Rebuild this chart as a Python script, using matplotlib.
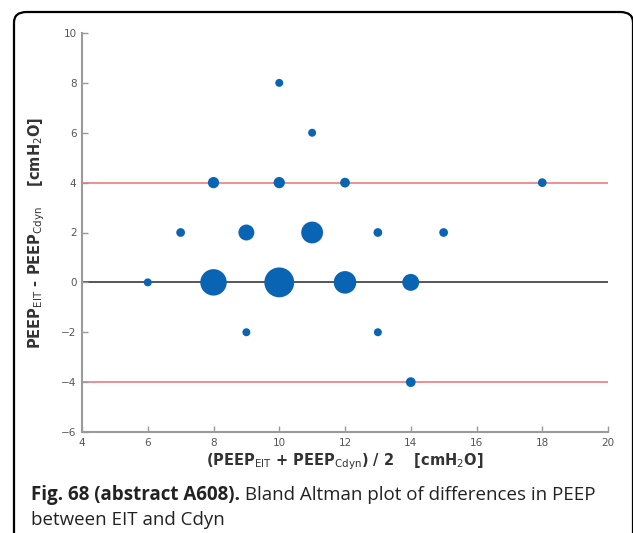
import matplotlib.pyplot as plt
from matplotlib.patches import FancyBboxPatch

# mean of the two PEEP values, difference, number of patients at that point
mean_peep = [6, 8, 10, 12, 14, 7, 9, 11, 13, 15, 8, 10, 12, 18, 10, 11, 9, 13, 14]
diff_peep = [0, 0, 0, 0, 0, 2, 2, 2, 2, 2, 4, 4, 4, 4, 8, 6, -2, -2, -4]
counts = [1, 11, 14, 8, 4.5, 1.2, 4, 7.5, 1.2, 1.2, 2, 2, 1.5, 1.2, 1, 1, 1, 1, 1.5]
bias = 0
limits = [4, -4]

xticks = [4, 6, 8, 10, 12, 14, 16, 18, 20]
yticks = [-6, -4, -2, 0, 2, 4, 6, 8, 10]

caption_bold = "Fig. 68 (abstract A608)."
caption_rest = " Bland Altman plot of differences in PEEP"
caption_line2 = "between EIT and Cdyn"

W, H = 633, 533
fig = plt.figure(figsize=(W/100, H/100), dpi=100)

# rounded frame round the panel, bottom edge runs off the image
frame = FancyBboxPatch((14/W, -0.03), (633-14)/W, (H-12)/H + 0.03,
                       boxstyle="round,pad=0,rounding_size=0.02",
                       transform=fig.transFigure, fill=False,
                       edgecolor="black", linewidth=1.6, clip_on=False)
fig.patches.append(frame)

ax = fig.add_axes([82/W, 1-432/H, (608-82)/W, (432-33)/H])

ax.axhline(bias, color="#3a3a3a", linewidth=1.2, zorder=1)
for l in limits:
    ax.axhline(l, color="#ec7d80", linewidth=1.2, zorder=1)

ax.scatter(mean_peep, diff_peep, s=[33*c for c in counts], color="#0a64b4",
           edgecolors="none", zorder=3)

ax.set_xlim(4, 20)
ax.set_ylim(-6, 10)
ax.set_xticks(xticks)
ax.set_yticks(yticks)
ax.tick_params(direction="in", length=4, width=1, colors="#999999",
               labelcolor="#555555", labelsize=7.5, pad=4)
for s in ["top", "right"]:
    ax.spines[s].set_visible(False)
for s in ["left", "bottom"]:
    ax.spines[s].set_color("#9a9a9a")
    ax.spines[s].set_linewidth(1.5)

ax.set_xlabel(r"(PEEP$_{\mathrm{EIT}}$ + PEEP$_{\mathrm{Cdyn}}$) / 2    [cmH$_{\mathrm{2}}$O]",
              fontsize=10.5, fontweight="bold", color="#333333", labelpad=3)
ax.set_ylabel(r"PEEP$_{\mathrm{EIT}}$ - PEEP$_{\mathrm{Cdyn}}$    [cmH$_{\mathrm{2}}$O]",
              fontsize=10.5, fontweight="bold", color="#333333", labelpad=10)

t = fig.text(31/W, 1-500/H, caption_bold, fontsize=13.5, fontweight="bold",
             family="Open Sans", va="baseline", color="#222222")
fig.canvas.draw()
bb = t.get_window_extent()
fig.text(bb.x1/W, 1-500/H, caption_rest, fontsize=13.5,
         family="Open Sans", va="baseline", color="#222222")
fig.text(31/W, 1-525/H, caption_line2, fontsize=13.5,
         family="Open Sans", va="baseline", color="#222222")

plt.savefig("out.png", dpi=100)
